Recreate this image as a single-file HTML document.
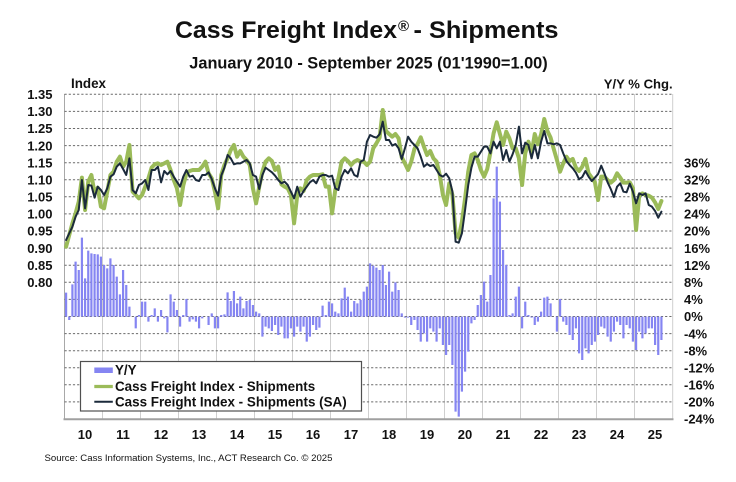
<!DOCTYPE html>
<html><head><meta charset="utf-8"><style>
html,body{margin:0;padding:0;background:#fff;}
svg{display:block;}
text{font-family:"Liberation Sans",Arial,sans-serif;fill:#111;}
.b{font-weight:bold;}
</style></head><body>
<svg width="736" height="482" viewBox="0 0 736 482" xmlns="http://www.w3.org/2000/svg">
<rect width="736" height="482" fill="#fff"/>
<!-- titles -->
<text class="b" x="175" y="38" font-size="24.4" textLength="222" lengthAdjust="spacingAndGlyphs">Cass Freight Index</text>
<text class="b" x="398" y="31" font-size="15">®</text>
<text class="b" x="413.5" y="38" font-size="24.4" textLength="145" lengthAdjust="spacingAndGlyphs">- Shipments</text>
<text class="b" x="189.3" y="68.3" font-size="16.3" textLength="358.4" lengthAdjust="spacingAndGlyphs">January 2010 - September 2025 (01'1990=1.00)</text>
<text class="b" x="71" y="88" font-size="13.4">Index</text>
<text class="b" x="672.7" y="88.3" font-size="13.1" text-anchor="end">Y/Y % Chg.</text>

<!-- vertical year lines -->
<g stroke="#cfcfcf" stroke-width="1">
<line x1="102.5" y1="94" x2="102.5" y2="419"/><line x1="140.5" y1="94" x2="140.5" y2="419"/>
<line x1="178.5" y1="94" x2="178.5" y2="419"/><line x1="216.5" y1="94" x2="216.5" y2="419"/>
<line x1="254.5" y1="94" x2="254.5" y2="419"/><line x1="292.5" y1="94" x2="292.5" y2="419"/>
<line x1="330.5" y1="94" x2="330.5" y2="419"/><line x1="368.5" y1="94" x2="368.5" y2="419"/>
<line x1="406.5" y1="94" x2="406.5" y2="419"/><line x1="444.5" y1="94" x2="444.5" y2="419"/>
<line x1="482.5" y1="94" x2="482.5" y2="419"/><line x1="520.5" y1="94" x2="520.5" y2="419"/>
<line x1="558.5" y1="94" x2="558.5" y2="419"/><line x1="596.5" y1="94" x2="596.5" y2="419"/>
<line x1="634.5" y1="94" x2="634.5" y2="419"/><line x1="672.7" y1="94" x2="672.7" y2="419"/>
</g>
<line x1="64.5" y1="94" x2="64.5" y2="419" stroke="#a8a8a8" stroke-width="1"/>
<!-- horizontal dashed grid -->
<g stroke="#6a6a6a" stroke-width="1" stroke-dasharray="2.2,2">
<line x1="64.5" y1="94.3" x2="672.7" y2="94.3"/><line x1="64.5" y1="111.4" x2="672.7" y2="111.4"/>
<line x1="64.5" y1="128.5" x2="672.7" y2="128.5"/><line x1="64.5" y1="145.6" x2="672.7" y2="145.6"/>
<line x1="64.5" y1="162.7" x2="672.7" y2="162.7"/><line x1="64.5" y1="179.8" x2="672.7" y2="179.8"/>
<line x1="64.5" y1="196.8" x2="672.7" y2="196.8"/><line x1="64.5" y1="213.9" x2="672.7" y2="213.9"/>
<line x1="64.5" y1="231.0" x2="672.7" y2="231.0"/><line x1="64.5" y1="248.1" x2="672.7" y2="248.1"/>
<line x1="64.5" y1="265.2" x2="672.7" y2="265.2"/><line x1="64.5" y1="282.3" x2="672.7" y2="282.3"/>
<line x1="64.5" y1="299.4" x2="672.7" y2="299.4"/><line x1="64.5" y1="316.5" x2="672.7" y2="316.5"/>
<line x1="64.5" y1="333.6" x2="672.7" y2="333.6"/><line x1="64.5" y1="350.7" x2="672.7" y2="350.7"/>
<line x1="64.5" y1="367.7" x2="672.7" y2="367.7"/><line x1="64.5" y1="384.8" x2="672.7" y2="384.8"/>
<line x1="64.5" y1="401.9" x2="672.7" y2="401.9"/>
</g>
<line x1="63.5" y1="419.2" x2="673.5" y2="419.2" stroke="#a0a0a0" stroke-width="2"/>

<!-- bars -->
<g transform="translate(66.083,95) scale(3.16667,0.33333)">
<path fill="none" stroke="#8585f2" stroke-width="2.2" vector-effect="non-scaling-stroke" d="M0 665V593M1 665V675M2 665V568M3 665V500M4 665V525M5 665V428M6 665V550M7 665V467M8 665V475M9 665V477M10 665V478M11 665V485M12 665V510M13 665V520M14 665V490M15 665V510M16 665V545M17 665V598M18 665V525M19 665V570M20 665V635M21 665V665M22 665V700M23 665V660M24 665V620M25 665V620M26 665V680M27 665V660M28 665V640M29 665V680M30 665V645M31 665V670M32 665V712M33 665V598M34 665V620M35 665V645M36 665V695M37 665V660M38 665V612M39 665V680M40 665V673M41 665V680M42 665V700M43 665V670M44 665V665M45 665V690M46 665V655M47 665V700M48 665V700M49 665V660M50 665V658M51 665V592M52 665V618M53 665V588M54 665V625M55 665V605M56 665V640M57 665V618M58 665V615M59 665V630M60 665V650M61 665V655M62 665V725M63 665V695M64 665V700M65 665V708M66 665V690M67 665V720M68 665V695M69 665V730M70 665V730M71 665V700M72 665V725M73 665V695M74 665V710M75 665V695M76 665V740M77 665V725M78 665V690M79 665V705M80 665V698M81 665V632M82 665V660M83 665V620M84 665V625M85 665V650M86 665V655M87 665V610M88 665V578M89 665V605M90 665V650M91 665V618M92 665V625M93 665V615M94 665V590M95 665V575M96 665V505M97 665V512M98 665V518M99 665V525M100 665V510M101 665V570M102 665V530M103 665V590M104 665V562M105 665V585M106 665V655M107 665V668M108 665V668M109 665V690M110 665V675M111 665V705M112 665V740M113 665V715M114 665V740M115 665V700M116 665V710M117 665V740M118 665V700M119 665V750M120 665V780M121 665V750M122 665V810M123 665V950M124 665V965M125 665V890M126 665V830M127 665V770M128 665V685M129 665V675M130 665V630M131 665V600M132 665V560M133 665V620M134 665V540M135 665V310M136 665V215M137 665V320M138 665V465M139 665V510M140 665V660M141 665V655M142 665V605M143 665V575M144 665V700M145 665V620M146 665V660M147 665V668M148 665V690M149 665V680M150 665V650M151 665V608M152 665V605M153 665V625M154 665V665M155 665V710M156 665V612M157 665V680M158 665V690M159 665V720M160 665V735M161 665V700M162 665V775M163 665V795M164 665V760M165 665V775M166 665V750M167 665V740M168 665V720M169 665V695M170 665V700M171 665V725M172 665V740M173 665V710M174 665V680M175 665V690M176 665V730M177 665V690M178 665V700M179 665V740M180 665V765M181 665V710M182 665V730M183 665V715M184 665V700M185 665V700M186 665V750M187 665V780M188 665V735"/>
</g>

<!-- lines -->
<g transform="translate(66.083,95) scale(3.16667,0.33333)" fill="none" stroke-linejoin="round" stroke-linecap="round">
<polyline vector-effect="non-scaling-stroke" stroke="#9bbb59" stroke-width="4" points="0,455 1,420 2,385 3,355 4,320 5,248 6,345 7,260 8,240 9,295 10,278 11,335 12,340 13,290 14,240 15,230 16,200 17,185 18,215 19,200 20,150 21,290 22,300 23,310 24,300 25,275 26,250 27,218 28,208 29,205 30,210 31,205 32,200 33,225 34,255 35,280 36,330 37,272 38,235 39,228 40,225 41,225 42,225 43,215 44,200 45,235 46,250 47,290 48,340 49,240 50,210 51,190 52,165 53,150 54,185 55,168 56,185 57,195 58,210 59,280 60,325 61,275 62,230 63,200 64,190 65,198 66,225 67,215 68,268 69,275 70,280 71,300 72,385 73,300 74,280 75,288 76,255 77,245 78,240 79,240 80,240 81,238 82,275 83,275 84,355 85,285 86,250 87,200 88,190 89,198 90,210 91,200 92,195 93,200 94,200 95,210 96,200 97,160 98,145 99,128 100,45 101,108 102,117 103,125 104,117 105,130 106,187 107,205 108,225 109,200 110,162 111,147 112,127 113,155 114,180 115,168 116,190 117,200 118,240 119,300 120,330 121,265 122,300 123,415 124,428 125,380 126,310 127,230 128,180 129,175 130,195 131,225 132,245 133,222 134,172 135,115 136,82 137,117 138,150 139,110 140,130 141,160 142,160 143,190 144,270 145,175 146,140 147,175 148,117 149,148 150,118 151,72 152,108 153,128 154,162 155,195 156,230 157,205 158,185 159,198 160,192 161,218 162,228 163,215 164,192 165,235 166,248 167,262 168,315 169,245 170,245 171,255 172,263 173,255 174,235 175,248 176,263 177,263 178,262 179,280 180,405 181,300 182,295 183,300 184,302 185,308 186,322 187,342 188,318"/>
<polyline vector-effect="non-scaling-stroke" stroke="#1b2a3b" stroke-width="2" points="0,435 1,415 2,395 3,365 4,345 5,255 6,340 7,270 8,272 9,308 10,275 11,285 12,300 13,280 14,245 15,238 16,215 17,205 18,222 19,240 20,190 21,285 22,295 23,270 24,265 25,255 26,285 27,225 28,225 29,215 30,262 31,228 32,238 33,228 34,245 35,260 36,275 37,245 38,225 39,245 40,242 41,255 42,258 43,240 44,240 45,232 46,252 47,280 48,302 49,242 50,218 51,180 52,190 53,208 54,205 55,205 56,200 57,195 58,205 59,240 60,245 61,282 62,240 63,218 64,225 65,232 66,242 67,255 68,265 69,260 70,270 71,290 72,310 73,275 74,305 75,288 76,275 77,262 78,255 79,265 80,245 81,240 82,240 83,245 84,242 85,280 86,285 87,245 88,225 89,235 90,220 91,240 92,245 93,200 94,195 95,140 96,120 97,125 98,128 99,118 100,80 101,135 102,135 103,152 104,147 105,160 106,192 107,160 108,125 109,140 110,150 111,160 112,185 113,215 114,207 115,213 116,210 117,225 118,240 119,245 120,236 121,250 122,290 123,440 124,443 125,415 126,345 127,270 128,218 129,185 130,185 131,170 132,155 133,155 134,175 135,140 136,160 137,140 138,195 139,165 140,200 141,178 142,150 143,95 144,175 145,143 146,150 147,190 148,150 149,190 150,140 151,108 152,145 153,145 154,148 155,145 156,150 157,175 158,198 159,210 160,220 161,233 162,253 163,246 164,228 165,245 166,258 167,248 168,237 169,212 170,235 171,262 172,282 173,306 174,275 175,265 176,290 177,292 178,266 179,290 180,325 181,295 182,300 183,295 184,330 185,335 186,348 187,368 188,350"/>
</g>

<!-- left axis labels -->
<g class="b" font-size="13" text-anchor="end">
<text class="b" x="52.5" y="99">1.35</text><text class="b" x="52.5" y="116.1">1.30</text>
<text class="b" x="52.5" y="133.2">1.25</text><text class="b" x="52.5" y="150.3">1.20</text>
<text class="b" x="52.5" y="167.4">1.15</text><text class="b" x="52.5" y="184.5">1.10</text>
<text class="b" x="52.5" y="201.5">1.05</text><text class="b" x="52.5" y="218.6">1.00</text>
<text class="b" x="52.5" y="235.7">0.95</text><text class="b" x="52.5" y="252.8">0.90</text>
<text class="b" x="52.5" y="269.9">0.85</text><text class="b" x="52.5" y="287">0.80</text>
</g>
<!-- right axis labels -->
<g font-size="13">
<text class="b" x="684" y="167.4">36%</text><text class="b" x="684" y="184.5">32%</text>
<text class="b" x="684" y="201.5">28%</text><text class="b" x="684" y="218.6">24%</text>
<text class="b" x="684" y="235.7">20%</text><text class="b" x="684" y="252.8">16%</text>
<text class="b" x="684" y="269.9">12%</text><text class="b" x="684" y="287">8%</text>
<text class="b" x="684" y="304.1">4%</text><text class="b" x="684" y="321.2">0%</text>
<text class="b" x="684" y="338.3">-4%</text><text class="b" x="684" y="355.4">-8%</text>
<text class="b" x="684" y="372.4">-12%</text><text class="b" x="684" y="389.5">-16%</text>
<text class="b" x="684" y="406.6">-20%</text><text class="b" x="684" y="423.7">-24%</text>
</g>
<!-- x labels -->
<g font-size="13" text-anchor="middle">
<text class="b" x="85" y="439">10</text><text class="b" x="123" y="439">11</text>
<text class="b" x="161" y="439">12</text><text class="b" x="199" y="439">13</text>
<text class="b" x="237" y="439">14</text><text class="b" x="275" y="439">15</text>
<text class="b" x="313" y="439">16</text><text class="b" x="351" y="439">17</text>
<text class="b" x="389" y="439">18</text><text class="b" x="427" y="439">19</text>
<text class="b" x="465" y="439">20</text><text class="b" x="503" y="439">21</text>
<text class="b" x="541" y="439">22</text><text class="b" x="579" y="439">23</text>
<text class="b" x="617" y="439">24</text><text class="b" x="655" y="439">25</text>
</g>

<!-- legend -->
<rect x="80.5" y="361.5" width="281" height="49.5" fill="#fff" stroke="#505050" stroke-width="1.2"/>
<rect x="94.3" y="367.5" width="18.5" height="5.5" fill="#8585f2"/>
<text class="b" x="115" y="374.5" font-size="13.4">Y/Y</text>
<line x1="94.3" y1="386.5" x2="112.8" y2="386.5" stroke="#9bbb59" stroke-width="3.2"/>
<text class="b" x="115" y="391" font-size="13.4">Cass Freight Index - Shipments</text>
<line x1="94.3" y1="401.8" x2="112.8" y2="401.8" stroke="#1b2a3b" stroke-width="2"/>
<text class="b" x="115" y="406.5" font-size="13.4" textLength="231.7" lengthAdjust="spacingAndGlyphs">Cass Freight Index - Shipments (SA)</text>

<!-- source -->
<text x="44.5" y="461" font-size="9.6" fill="#222" textLength="288" lengthAdjust="spacingAndGlyphs">Source: Cass Information Systems, Inc., ACT Research Co. © 2025</text>
</svg>
</body></html>
